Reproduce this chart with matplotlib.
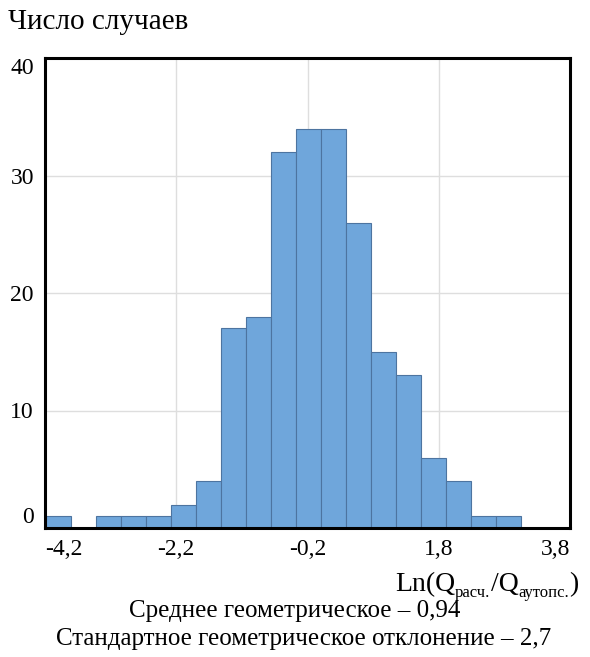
import numpy as np
import matplotlib
matplotlib.use("Agg")
import matplotlib.pyplot as plt

plt.rcParams['font.family'] = ['Liberation Serif', 'DejaVu Serif']

# гистограмма Ln(Qрасч./Qаутопс.)
bin_start = -4.18
bin_width = 0.381
counts = [1, 0, 1, 1, 1, 2, 4, 17, 18, 32, 34, 34, 26, 15, 13, 6, 4, 1, 1]
x_ticks = [-4.2, -2.2, -0.2, 1.8, 3.8]
x_tick_labels = ["-4,2", "-2,2", "-0,2", "1,8", "3,8"]
y_ticks = [0, 10, 20, 30, 40]
mean_geom = "0,94"
std_geom = "2,7"

edges = bin_start + bin_width * np.arange(len(counts) + 1)

fig = plt.figure(figsize=(5.9, 6.57), dpi=100)
ax = fig.add_axes([45/590, 1 - 528/657, 525/590, 470/657])

ax.bar(edges[:-1], counts, width=bin_width, align='edge',
       color='#6fa6db', edgecolor='#4d74a0', linewidth=0.8, zorder=2)

ax.set_xlim(-4.2, 3.8)
ax.set_ylim(0, 40)

# сетка
for gx in x_ticks[1:-1]:
    ax.axvline(gx, color='#dedede', lw=1, zorder=0)
for gy in y_ticks[1:-1]:
    ax.axhline(gy, color='#dedede', lw=1, zorder=0)

ax.set_xticks(x_ticks)
ax.set_xticklabels(x_tick_labels, fontsize=17)
ax.set_yticks(y_ticks)
ax.set_yticklabels([str(v) for v in y_ticks], fontsize=17)
ax.tick_params(length=0, pad=8)
xl = ax.get_xticklabels()
xl[0].set_ha('left')
xl[-1].set_ha('right')
yl = ax.get_yticklabels()
yl[0].set_va('bottom')
yl[-1].set_va('top')

for s in ax.spines.values():
    s.set_linewidth(2.2)
    s.set_color('black')

fig.text(8/590, 1 - 22/657, "Число случаев", fontsize=21, va='center', ha='left')

# подпись оси x собираем из кусков, чтобы индексы были мелкие
pieces = [("Ln(Q", 20, 0), ("расч.", 12, -6), ("/Q", 20, 0), ("аутопс.", 12, -6), (")", 20, 0)]
renderer = fig.canvas.get_renderer()
x_px = 395
base_px = 657 - 591
for txt, size, dy in pieces:
    t = fig.text(x_px / 590, (base_px + dy) / 657, txt, fontsize=size,
                 va='baseline', ha='left')
    bb = t.get_window_extent(renderer)
    x_px = bb.x1

fig.text(295/590, 1 - 611/657, "Среднее геометрическое – " + mean_geom,
         fontsize=18, va='center', ha='center')
fig.text(304/590, 1 - 639/657, "Стандартное геометрическое отклонение – " + std_geom,
         fontsize=18, va='center', ha='center')

fig.savefig("out.png", dpi=100)
